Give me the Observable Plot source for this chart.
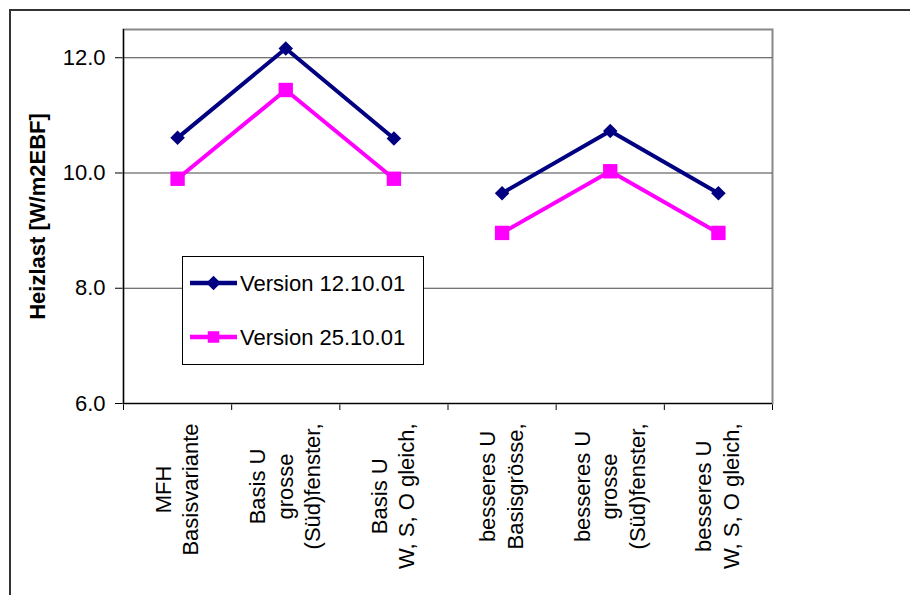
<!DOCTYPE html>
<html><head><meta charset="utf-8">
<script src="https://cdn.jsdelivr.net/npm/d3@7"></script>
<script src="https://cdn.jsdelivr.net/npm/@observablehq/plot@0.6"></script>
<style>
html,body{margin:0;padding:0;background:#fff;overflow:hidden;}
#wrap{position:relative;width:910px;height:595px;overflow:hidden;}
#border{position:absolute;left:9px;top:9px;width:1000px;height:1000px;border-left:2px solid #333;border-top:2px solid #333;pointer-events:none;}
</style></head><body>
<div id="wrap"><div id="chart"></div><div id="border"></div></div>
<script>
// ---- data ----
const categories = [
  "MFH\nBasisvariante",
  "Basis U\ngrosse\n(Süd)fenster,",
  "Basis U\nW, S, O gleich,",
  "besseres U\nBasisgrösse,",
  "besseres U\ngrosse\n(Süd)fenster,",
  "besseres U\nW, S, O gleich,"
];
const groups = ["Basis", "Basis", "Basis", "besseres", "besseres", "besseres"];
const version1 = [10.61, 12.16, 10.60, 9.65, 10.73, 9.65];
const version2 = [9.90, 11.44, 9.90, 8.96, 10.03, 8.96];
const seriesNames = ["Version 12.10.01", "Version 25.10.01"];
const yTicks = [6, 8, 10, 12];
const yLabel = "Heizlast [W/m2EBF]";

// ---- layout / style ----
const FONT = "Arial, 'Liberation Sans', sans-serif";
const FS = 22;
const colors = ["#000080", "#FF00FF"];
const W = 910, H = 595, ML = 123, MR = 138, MT = 29, MB = 192;

const rows = categories.map((c, i) => ({i, cat: c, g: groups[i], v1: version1[i], v2: version2[i]}));
const bounds = d3.range(categories.length + 1).map(i => i - 0.5);

const diamond = {draw(ctx, size) {const h = Math.sqrt(size / 2); ctx.moveTo(0, -h); ctx.lineTo(h, 0); ctx.lineTo(0, h); ctx.lineTo(-h, 0); ctx.closePath();}};
const square = {draw(ctx, size) {const s = Math.sqrt(size) / 2; ctx.rect(-s, -s, 2 * s, 2 * s);}};

const cv = document.createElement("canvas").getContext("2d");
cv.font = `${FS}px ${FONT}`;
const maxW = s => d3.max(s.split("\n"), l => cv.measureText(l).width);

const labelMarks = rows.map(r => Plot.text([r], {
  x: "i", text: "cat", frameAnchor: "bottom", rotate: -90,
  textAnchor: "middle", lineAnchor: "middle", lineHeight: 1.25,
  dy: 20 + maxW(r.cat) / 2, dx: -2, fontSize: FS, fill: "black"
}));

const chart = Plot.plot({
  width: W, height: H,
  marginLeft: ML, marginRight: MR, marginTop: MT, marginBottom: MB,
  style: {fontFamily: FONT, fontSize: FS + "px", color: "black", background: "white"},
  x: {domain: [-0.5, categories.length - 0.5], ticks: bounds, tickFormat: () => "", tickSize: 7, label: null},
  y: {domain: [6, 12.49], ticks: yTicks, tickFormat: d3.format(".1f"), tickSize: 8, tickPadding: 10, label: null},
  marks: [
    Plot.frame({stroke: "#888", strokeWidth: 2}),
    Plot.ruleY(yTicks.filter(t => t > 6), {stroke: "#444", strokeWidth: 1.2}),
    Plot.ruleX([-0.5], {stroke: "black", strokeWidth: 1.2}),
    Plot.ruleY([6], {stroke: "black", strokeWidth: 1.2}),
    Plot.line(rows, {x: "i", y: "v1", z: "g", stroke: colors[0], strokeWidth: 4}),
    Plot.dot(rows, {x: "i", y: "v1", symbol: diamond, r: 5.8, fill: colors[0], stroke: null}),
    Plot.line(rows, {x: "i", y: "v2", z: "g", stroke: colors[1], strokeWidth: 4}),
    Plot.dot(rows, {x: "i", y: "v2", symbol: square, r: 8.1, fill: colors[1], stroke: null}),
    Plot.text([yLabel], {frameAnchor: "left", dx: -86, rotate: -90, textAnchor: "middle", fontWeight: "bold", fontSize: FS, fill: "black"}),
    ...labelMarks
  ]
});
document.getElementById("chart").appendChild(chart);

// ---- legend ----
const svg = d3.select(chart.tagName.toLowerCase() === "svg" ? chart : chart.querySelector("svg"));
const lg = svg.append("g").attr("font-family", FONT).attr("font-size", FS).attr("text-anchor", "start");
lg.append("rect").attr("x", 182.5).attr("y", 256.5).attr("width", 241).attr("height", 108)
  .attr("fill", "white").attr("stroke", "black").attr("stroke-width", 1);
const syms = [d3.symbol(diamond, Math.PI * 5.8 * 5.8)(), d3.symbol(square, Math.PI * 6.5 * 6.5)()];
seriesNames.forEach((name, k) => {
  const y = 283 + k * 54;
  lg.append("line").attr("x1", 190).attr("x2", 237).attr("y1", y).attr("y2", y)
    .attr("stroke", colors[k]).attr("stroke-width", 4.5);
  lg.append("path").attr("d", syms[k]).attr("transform", `translate(213.5,${y})`).attr("fill", colors[k]);
  lg.append("text").attr("x", 240).attr("y", y).attr("dy", "0.36em").attr("text-anchor", "start").attr("fill", "black").text(name);
});
</script>
</body></html>
